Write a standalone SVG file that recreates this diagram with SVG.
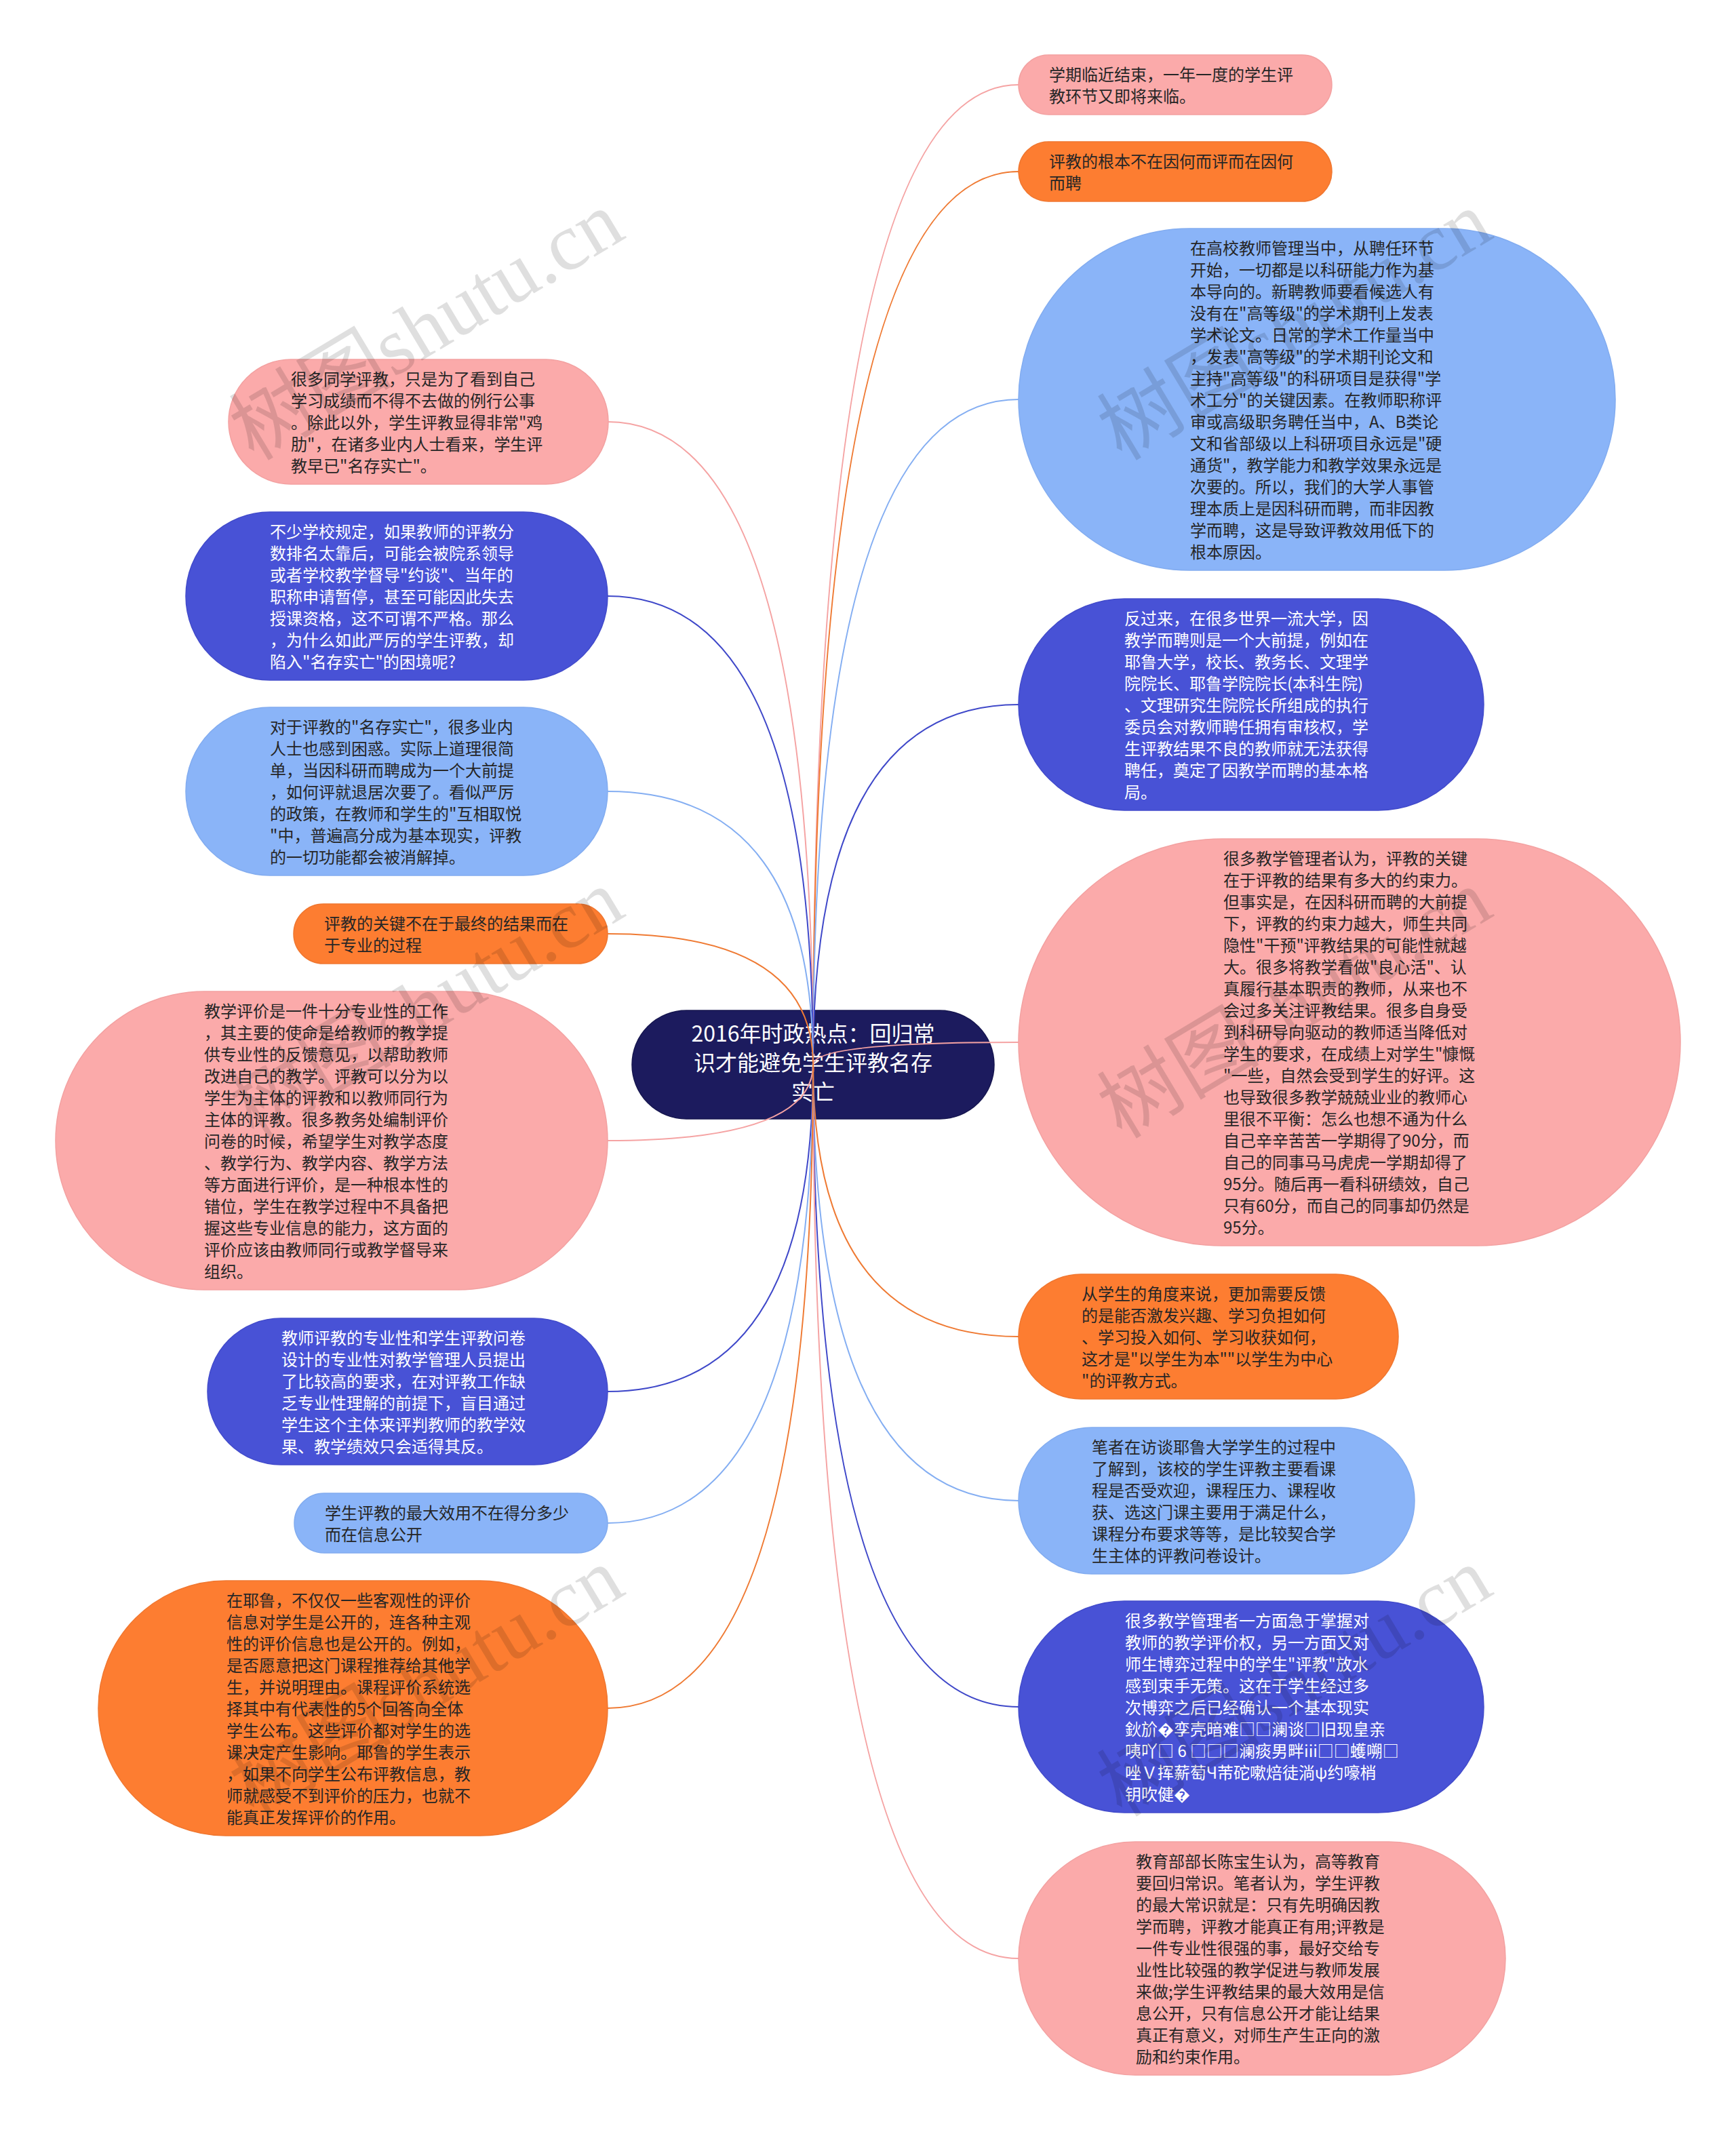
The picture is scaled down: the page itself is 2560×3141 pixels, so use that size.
<svg xmlns="http://www.w3.org/2000/svg" width="2560" height="3141" viewBox="0 0 2560 3141">
<style>
.pink{fill:#FBAAAA;stroke:#F3A1A1;stroke-width:1.5}
.orange{fill:#FD7D31;stroke:#F07730;stroke-width:1.5}
.lblue{fill:#8AB4F8;stroke:#82ACF0;stroke-width:1.5}
.blue{fill:#4852D6;stroke:#424BCB;stroke-width:1.5}
.root{fill:#1C1B5E;stroke:#16164F;stroke-width:1.5}
text{font-family:"Noto Sans CJK SC","Liberation Sans",sans-serif;font-size:24px}
.dk{fill:#262626}
.wt{fill:#FFFFFF}
.rt{fill:#FFFFFF;font-size:32px;text-anchor:middle}
.c{fill:none;stroke-width:2}
.cp{stroke:#F5A3A3}
.co{stroke:#EF7A33}
.cl{stroke:#84AEF2}
.cb{stroke:#3F48C9}
.wm{font-family:"Liberation Serif","Noto Sans CJK SC",serif;font-size:120px;fill:#000;opacity:0.12;text-anchor:middle}
</style>
<rect width="2560" height="3141" fill="#FFFFFF"/>

<g id="n-root"><rect class="root" x="932" y="1490" width="534" height="160" rx="80"/>
<text class="rt"><tspan x="1199" y="1536">2016年时政热点：回归常</tspan><tspan x="1199" y="1579">识才能避免学生评教名存</tspan><tspan x="1199" y="1622">实亡</tspan></text></g>

<g id="n-r1"><rect class="pink" x="1502" y="81" width="462" height="88" rx="44"/>
<text class="dk"><tspan x="1547" y="119">学期临近结束，一年一度的学生评</tspan><tspan x="1547" y="151">教环节又即将来临。</tspan></text></g>

<g id="n-r2"><rect class="orange" x="1502" y="209" width="462" height="88" rx="44"/>
<text class="dk"><tspan x="1547" y="247">评教的根本不在因何而评而在因何</tspan><tspan x="1547" y="279">而聘</tspan></text></g>

<g id="n-r3"><rect class="lblue" x="1502" y="337" width="880" height="504" rx="252"/>
<text class="dk"><tspan x="1755" y="375">在高校教师管理当中，从聘任环节</tspan><tspan x="1755" y="407">开始，一切都是以科研能力作为基</tspan><tspan x="1755" y="439">本导向的。新聘教师要看候选人有</tspan><tspan x="1755" y="471">没有在"高等级"的学术期刊上发表</tspan><tspan x="1755" y="503">学术论文。日常的学术工作量当中</tspan><tspan x="1755" y="535">，发表"高等级"的学术期刊论文和</tspan><tspan x="1755" y="567">主持"高等级"的科研项目是获得"学</tspan><tspan x="1755" y="599">术工分"的关键因素。在教师职称评</tspan><tspan x="1755" y="631">审或高级职务聘任当中，A、B类论</tspan><tspan x="1755" y="663">文和省部级以上科研项目永远是"硬</tspan><tspan x="1755" y="695">通货"，教学能力和教学效果永远是</tspan><tspan x="1755" y="727">次要的。所以，我们的大学人事管</tspan><tspan x="1755" y="759">理本质上是因科研而聘，而非因教</tspan><tspan x="1755" y="791">学而聘，这是导致评教效用低下的</tspan><tspan x="1755" y="823">根本原因。</tspan></text></g>

<g id="n-r4"><rect class="blue" x="1502" y="883" width="686" height="312" rx="156"/>
<text class="wt"><tspan x="1658" y="921">反过来，在很多世界一流大学，因</tspan><tspan x="1658" y="953">教学而聘则是一个大前提，例如在</tspan><tspan x="1658" y="985">耶鲁大学，校长、教务长、文理学</tspan><tspan x="1658" y="1017">院院长、耶鲁学院院长(本科生院)</tspan><tspan x="1658" y="1049">、文理研究生院院长所组成的执行</tspan><tspan x="1658" y="1081">委员会对教师聘任拥有审核权，学</tspan><tspan x="1658" y="1113">生评教结果不良的教师就无法获得</tspan><tspan x="1658" y="1145">聘任，奠定了因教学而聘的基本格</tspan><tspan x="1658" y="1177">局。</tspan></text></g>

<g id="n-r5"><rect class="pink" x="1502" y="1237" width="976" height="600" rx="300"/>
<text class="dk"><tspan x="1804" y="1275">很多教学管理者认为，评教的关键</tspan><tspan x="1804" y="1307">在于评教的结果有多大的约束力。</tspan><tspan x="1804" y="1339">但事实是，在因科研而聘的大前提</tspan><tspan x="1804" y="1371">下，评教的约束力越大，师生共同</tspan><tspan x="1804" y="1403">隐性"干预"评教结果的可能性就越</tspan><tspan x="1804" y="1435">大。很多将教学看做"良心活"、认</tspan><tspan x="1804" y="1467">真履行基本职责的教师，从来也不</tspan><tspan x="1804" y="1499">会过多关注评教结果。很多自身受</tspan><tspan x="1804" y="1531">到科研导向驱动的教师适当降低对</tspan><tspan x="1804" y="1563">学生的要求，在成绩上对学生"慷慨</tspan><tspan x="1804" y="1595">"一些，自然会受到学生的好评。这</tspan><tspan x="1804" y="1627">也导致很多教学兢兢业业的教师心</tspan><tspan x="1804" y="1659">里很不平衡：怎么也想不通为什么</tspan><tspan x="1804" y="1691">自己辛辛苦苦一学期得了90分，而</tspan><tspan x="1804" y="1723">自己的同事马马虎虎一学期却得了</tspan><tspan x="1804" y="1755">95分。随后再一看科研绩效，自己</tspan><tspan x="1804" y="1787">只有60分，而自己的同事却仍然是</tspan><tspan x="1804" y="1819">95分。</tspan></text></g>

<g id="n-r6"><rect class="orange" x="1502" y="1879" width="560" height="184" rx="92"/>
<text class="dk"><tspan x="1595" y="1917">从学生的角度来说，更加需要反馈</tspan><tspan x="1595" y="1949">的是能否激发兴趣、学习负担如何</tspan><tspan x="1595" y="1981">、学习投入如何、学习收获如何，</tspan><tspan x="1595" y="2013">这才是"以学生为本""以学生为中心</tspan><tspan x="1595" y="2045">"的评教方式。</tspan></text></g>

<g id="n-r7"><rect class="lblue" x="1502" y="2105" width="584" height="216" rx="108"/>
<text class="dk"><tspan x="1610" y="2143">笔者在访谈耶鲁大学学生的过程中</tspan><tspan x="1610" y="2175">了解到，该校的学生评教主要看课</tspan><tspan x="1610" y="2207">程是否受欢迎，课程压力、课程收</tspan><tspan x="1610" y="2239">获、选这门课主要用于满足什么，</tspan><tspan x="1610" y="2271">课程分布要求等等，是比较契合学</tspan><tspan x="1610" y="2303">生主体的评教问卷设计。</tspan></text></g>

<g id="n-r8"><rect class="blue" x="1502" y="2361" width="686" height="312" rx="156"/>
<text class="wt"><tspan x="1659" y="2399">很多教学管理者一方面急于掌握对</tspan><tspan x="1659" y="2431">教师的教学评价权，另一方面又对</tspan><tspan x="1659" y="2463">师生博弈过程中的学生"评教"放水</tspan><tspan x="1659" y="2495">感到束手无策。这在于学生经过多</tspan><tspan x="1659" y="2527">次博弈之后已经确认一个基本现实</tspan><tspan x="1659" y="2559">鈥斺�孪壳暗难□□澜谈□旧现皇亲</tspan><tspan x="1659" y="2591">咦吖□ 6 □□□澜痰男畔iii□□蠖嗍□</tspan><tspan x="1659" y="2623">唑Ｖ挥薪萄Ч芾砣嗽焙徒淌ψ约嚎梢</tspan><tspan x="1659" y="2655">钥吹健�</tspan></text></g>

<g id="n-r9"><rect class="pink" x="1502" y="2716" width="718" height="344" rx="172"/>
<text class="dk"><tspan x="1675" y="2754">教育部部长陈宝生认为，高等教育</tspan><tspan x="1675" y="2786">要回归常识。笔者认为，学生评教</tspan><tspan x="1675" y="2818">的最大常识就是：只有先明确因教</tspan><tspan x="1675" y="2850">学而聘，评教才能真正有用;评教是</tspan><tspan x="1675" y="2882">一件专业性很强的事，最好交给专</tspan><tspan x="1675" y="2914">业性比较强的教学促进与教师发展</tspan><tspan x="1675" y="2946">来做;学生评教结果的最大效用是信</tspan><tspan x="1675" y="2978">息公开，只有信息公开才能让结果</tspan><tspan x="1675" y="3010">真正有意义，对师生产生正向的激</tspan><tspan x="1675" y="3042">励和约束作用。</tspan></text></g>

<g id="n-l1"><rect class="pink" x="337" y="530" width="560" height="184" rx="92"/>
<text class="dk"><tspan x="429" y="568">很多同学评教，只是为了看到自己</tspan><tspan x="429" y="600">学习成绩而不得不去做的例行公事</tspan><tspan x="429" y="632">。除此以外，学生评教显得非常"鸡</tspan><tspan x="429" y="664">肋"，在诸多业内人士看来，学生评</tspan><tspan x="429" y="696">教早已"名存实亡"。</tspan></text></g>

<g id="n-l2"><rect class="blue" x="274" y="755" width="622" height="248" rx="124"/>
<text class="wt"><tspan x="398" y="793">不少学校规定，如果教师的评教分</tspan><tspan x="398" y="825">数排名太靠后，可能会被院系领导</tspan><tspan x="398" y="857">或者学校教学督导"约谈"、当年的</tspan><tspan x="398" y="889">职称申请暂停，甚至可能因此失去</tspan><tspan x="398" y="921">授课资格，这不可谓不严格。那么</tspan><tspan x="398" y="953">，为什么如此严厉的学生评教，却</tspan><tspan x="398" y="985">陷入"名存实亡"的困境呢?</tspan></text></g>

<g id="n-l3"><rect class="lblue" x="274" y="1043" width="622" height="248" rx="124"/>
<text class="dk"><tspan x="398" y="1081">对于评教的"名存实亡"，很多业内</tspan><tspan x="398" y="1113">人士也感到困惑。实际上道理很简</tspan><tspan x="398" y="1145">单，当因科研而聘成为一个大前提</tspan><tspan x="398" y="1177">，如何评就退居次要了。看似严厉</tspan><tspan x="398" y="1209">的政策，在教师和学生的"互相取悦</tspan><tspan x="398" y="1241">"中，普遍高分成为基本现实，评教</tspan><tspan x="398" y="1273">的一切功能都会被消解掉。</tspan></text></g>

<g id="n-l4"><rect class="orange" x="433" y="1333" width="463" height="88" rx="44"/>
<text class="dk"><tspan x="478" y="1371">评教的关键不在于最终的结果而在</tspan><tspan x="478" y="1403">于专业的过程</tspan></text></g>

<g id="n-l5"><rect class="pink" x="82" y="1462" width="814" height="440" rx="220"/>
<text class="dk"><tspan x="301" y="1500">教学评价是一件十分专业性的工作</tspan><tspan x="301" y="1532">，其主要的使命是给教师的教学提</tspan><tspan x="301" y="1564">供专业性的反馈意见，以帮助教师</tspan><tspan x="301" y="1596">改进自己的教学。评教可以分为以</tspan><tspan x="301" y="1628">学生为主体的评教和以教师同行为</tspan><tspan x="301" y="1660">主体的评教。很多教务处编制评价</tspan><tspan x="301" y="1692">问卷的时候，希望学生对教学态度</tspan><tspan x="301" y="1724">、教学行为、教学内容、教学方法</tspan><tspan x="301" y="1756">等方面进行评价，是一种根本性的</tspan><tspan x="301" y="1788">错位，学生在教学过程中不具备把</tspan><tspan x="301" y="1820">握这些专业信息的能力，这方面的</tspan><tspan x="301" y="1852">评价应该由教师同行或教学督导来</tspan><tspan x="301" y="1884">组织。</tspan></text></g>

<g id="n-l6"><rect class="blue" x="306" y="1944" width="590" height="216" rx="108"/>
<text class="wt"><tspan x="415" y="1982">教师评教的专业性和学生评教问卷</tspan><tspan x="415" y="2014">设计的专业性对教学管理人员提出</tspan><tspan x="415" y="2046">了比较高的要求，在对评教工作缺</tspan><tspan x="415" y="2078">乏专业性理解的前提下，盲目通过</tspan><tspan x="415" y="2110">学生这个主体来评判教师的教学效</tspan><tspan x="415" y="2142">果、教学绩效只会适得其反。</tspan></text></g>

<g id="n-l7"><rect class="lblue" x="434" y="2202" width="462" height="88" rx="44"/>
<text class="dk"><tspan x="479" y="2240">学生评教的最大效用不在得分多少</tspan><tspan x="479" y="2272">而在信息公开</tspan></text></g>

<g id="n-l8"><rect class="orange" x="145" y="2331" width="751" height="376" rx="188"/>
<text class="dk"><tspan x="334" y="2369">在耶鲁，不仅仅一些客观性的评价</tspan><tspan x="334" y="2401">信息对学生是公开的，连各种主观</tspan><tspan x="334" y="2433">性的评价信息也是公开的。例如，</tspan><tspan x="334" y="2465">是否愿意把这门课程推荐给其他学</tspan><tspan x="334" y="2497">生，并说明理由。课程评价系统选</tspan><tspan x="334" y="2529">择其中有代表性的5个回答向全体</tspan><tspan x="334" y="2561">学生公布。这些评价都对学生的选</tspan><tspan x="334" y="2593">课决定产生影响。耶鲁的学生表示</tspan><tspan x="334" y="2625">，如果不向学生公布评教信息，教</tspan><tspan x="334" y="2657">师就感受不到评价的压力，也就不</tspan><tspan x="334" y="2689">能真正发挥评价的作用。</tspan></text></g>

<g id="connectors">
<path class="c cp" d="M1199 1570 Q1199 125 1502 125"/>
<path class="c co" d="M1199 1570 Q1199 253 1502 253"/>
<path class="c cl" d="M1199 1570 Q1199 589 1502 589"/>
<path class="c cb" d="M1199 1570 Q1199 1039 1502 1039"/>
<path class="c cp" d="M1199 1570 Q1199 1537 1502 1537"/>
<path class="c co" d="M1199 1570 Q1199 1971 1502 1971"/>
<path class="c cl" d="M1199 1570 Q1199 2213 1502 2213"/>
<path class="c cb" d="M1199 1570 Q1199 2517 1502 2517"/>
<path class="c cp" d="M1199 1570 Q1199 2888 1502 2888"/>
<path class="c cp" d="M1199 1570 Q1199 622 896 622"/>
<path class="c cb" d="M1199 1570 Q1199 879 896 879"/>
<path class="c cl" d="M1199 1570 Q1199 1167 896 1167"/>
<path class="c co" d="M1199 1570 Q1199 1377 896 1377"/>
<path class="c cp" d="M1199 1570 Q1199 1682 896 1682"/>
<path class="c cb" d="M1199 1570 Q1199 2052 896 2052"/>
<path class="c cl" d="M1199 1570 Q1199 2246 896 2246"/>
<path class="c co" d="M1199 1570 Q1199 2519 896 2519"/>
</g>

<g id="watermark">
<text class="wm" transform="translate(650 515) rotate(-31)">树图shutu.cn</text>
<text class="wm" transform="translate(1930 515) rotate(-31)">树图shutu.cn</text>
<text class="wm" transform="translate(650 1515) rotate(-31)">树图shutu.cn</text>
<text class="wm" transform="translate(1930 1515) rotate(-31)">树图shutu.cn</text>
<text class="wm" transform="translate(650 2515) rotate(-31)">树图shutu.cn</text>
<text class="wm" transform="translate(1930 2515) rotate(-31)">树图shutu.cn</text>
</g>
</svg>
